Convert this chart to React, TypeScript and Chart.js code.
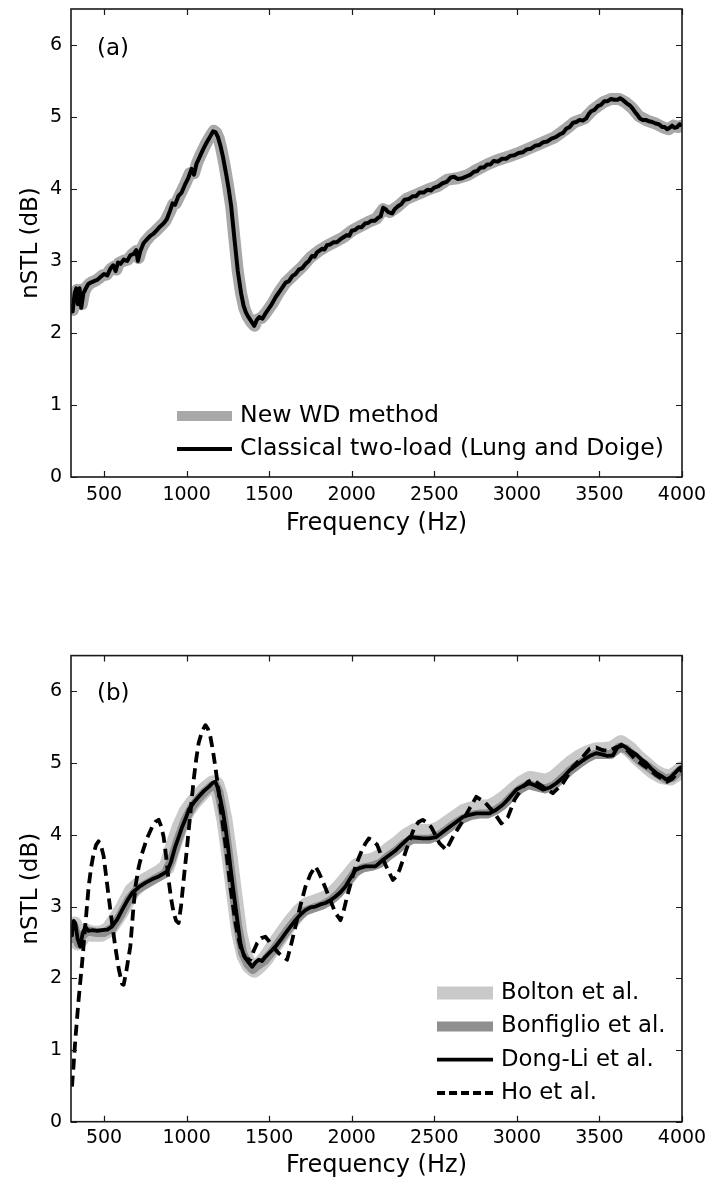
import { useEffect, useRef } from "react";
import { Chart, registerables } from "chart.js";

Chart.register(...registerables);

const FONT = "'DejaVu Sans', 'Liberation Sans', sans-serif";

// Shared axis ticks
const freqTicks = [500, 1000, 1500, 2000, 2500, 3000, 3500, 4000];
const nstlTicks = [0, 1, 2, 3, 4, 5, 6];

// ---- Panel (a): [frequency Hz, nSTL dB] ----
const newWdA: [number, number][] = [
  [300, 2.38], [312, 2.32], [324, 2.56], [336, 2.6], [346, 2.42], [356, 2.6], [366, 2.4], [380, 2.57],
  [395, 2.64], [410, 2.68], [430, 2.71], [450, 2.73], [470, 2.76], [490, 2.8], [515, 2.81], [540, 2.89],
  [560, 2.92], [575, 2.88], [590, 2.97], [615, 3.0], [645, 3.02], [670, 3.09], [695, 3.14], [710, 3.04],
  [725, 3.16], [750, 3.27], [780, 3.35], [810, 3.41], [840, 3.48], [870, 3.55], [900, 3.69], [920, 3.79],
  [935, 3.8], [960, 3.92], [990, 4.06], [1020, 4.22], [1045, 4.22], [1065, 4.37], [1090, 4.5],
  [1120, 4.64], [1145, 4.74], [1165, 4.81], [1180, 4.78], [1195, 4.7], [1210, 4.56], [1230, 4.33],
  [1250, 4.06], [1270, 3.76], [1290, 3.3], [1310, 2.86], [1330, 2.55], [1350, 2.34], [1370, 2.23],
  [1395, 2.14], [1412, 2.1], [1430, 2.19], [1455, 2.21], [1480, 2.28], [1520, 2.41], [1560, 2.57],
  [1600, 2.7], [1650, 2.81], [1700, 2.92], [1750, 3.05], [1800, 3.14], [1850, 3.21], [1900, 3.27],
  [1950, 3.33], [2000, 3.42], [2050, 3.48], [2100, 3.54], [2150, 3.59], [2190, 3.72], [2230, 3.68],
  [2280, 3.76], [2330, 3.86], [2400, 3.93], [2460, 3.99], [2520, 4.04], [2580, 4.13], [2640, 4.15],
  [2700, 4.19], [2760, 4.27], [2820, 4.34], [2880, 4.4], [2950, 4.45], [3020, 4.51], [3090, 4.58],
  [3160, 4.65], [3230, 4.72], [3290, 4.82], [3350, 4.93], [3410, 4.98], [3460, 5.1], [3520, 5.2],
  [3570, 5.25], [3620, 5.25], [3660, 5.2], [3700, 5.12], [3740, 5.01], [3790, 4.95], [3840, 4.91],
  [3890, 4.85], [3920, 4.83], [3950, 4.88], [3975, 4.86], [4000, 4.88],
];

const classicalA: [number, number][] = [
  [300, 2.4], [310, 2.3], [322, 2.55], [332, 2.62], [342, 2.4], [352, 2.62], [362, 2.35], [375, 2.55],
  [390, 2.62], [405, 2.68], [420, 2.7], [440, 2.72], [460, 2.74], [480, 2.78], [500, 2.82], [520, 2.8],
  [540, 2.9], [555, 2.94], [570, 2.86], [585, 2.98], [600, 2.96], [620, 3.02], [640, 3.0], [660, 3.08],
  [680, 3.1], [695, 3.15], [705, 3.0], [720, 3.14], [740, 3.25], [760, 3.3], [780, 3.35], [800, 3.38],
  [820, 3.43], [840, 3.48], [860, 3.52], [880, 3.58], [900, 3.7], [915, 3.8], [930, 3.78], [950, 3.9],
  [970, 3.95], [990, 4.06], [1010, 4.15], [1030, 4.28], [1045, 4.2], [1060, 4.35], [1080, 4.45],
  [1100, 4.55], [1120, 4.64], [1140, 4.72], [1160, 4.8], [1175, 4.79], [1190, 4.72], [1205, 4.6],
  [1220, 4.45], [1240, 4.2], [1255, 4.0], [1270, 3.76], [1290, 3.3], [1310, 2.86], [1330, 2.55],
  [1345, 2.38], [1360, 2.28], [1375, 2.22], [1395, 2.15], [1410, 2.1], [1425, 2.18], [1440, 2.22],
  [1460, 2.2], [1480, 2.28], [1510, 2.38], [1540, 2.5], [1570, 2.6], [1600, 2.7], [1620, 2.72],
  [1640, 2.79], [1660, 2.82], [1680, 2.88], [1700, 2.9], [1720, 2.96], [1740, 3.0], [1760, 3.07],
  [1775, 3.06], [1790, 3.12], [1820, 3.17], [1835, 3.16], [1850, 3.22], [1870, 3.23], [1890, 3.26],
  [1910, 3.26], [1930, 3.3], [1950, 3.33], [1970, 3.36], [1985, 3.35], [2000, 3.42], [2020, 3.43],
  [2040, 3.47], [2060, 3.47], [2080, 3.52], [2100, 3.53], [2120, 3.56], [2140, 3.56], [2160, 3.6],
  [2175, 3.62], [2190, 3.74], [2205, 3.72], [2220, 3.68], [2245, 3.66], [2260, 3.72], [2280, 3.76],
  [2300, 3.79], [2320, 3.85], [2345, 3.86], [2370, 3.9], [2390, 3.9], [2410, 3.95], [2435, 3.95],
  [2460, 3.99], [2480, 3.98], [2500, 4.02], [2525, 4.04], [2550, 4.08], [2575, 4.1], [2600, 4.16],
  [2620, 4.17], [2640, 4.14], [2670, 4.15], [2700, 4.18], [2720, 4.2], [2740, 4.24], [2760, 4.25],
  [2780, 4.3], [2800, 4.3], [2820, 4.34], [2840, 4.34], [2860, 4.39], [2885, 4.38], [2910, 4.42],
  [2935, 4.42], [2960, 4.46], [2985, 4.47], [3010, 4.5], [3035, 4.51], [3060, 4.55], [3085, 4.56],
  [3110, 4.6], [3135, 4.61], [3160, 4.65], [3185, 4.66], [3210, 4.7], [3235, 4.72], [3260, 4.76],
  [3280, 4.78], [3300, 4.84], [3320, 4.86], [3340, 4.92], [3360, 4.93], [3380, 4.96], [3400, 4.95],
  [3420, 4.98], [3435, 5.04], [3450, 5.08], [3470, 5.1], [3490, 5.15], [3510, 5.17], [3530, 5.22],
  [3550, 5.22], [3570, 5.25], [3590, 5.24], [3610, 5.24], [3625, 5.26], [3640, 5.24], [3655, 5.21],
  [3670, 5.18], [3685, 5.16], [3700, 5.12], [3715, 5.07], [3730, 5.03], [3745, 4.98], [3760, 4.96],
  [3780, 4.96], [3800, 4.94], [3820, 4.93], [3840, 4.91], [3860, 4.9], [3880, 4.86], [3895, 4.86],
  [3910, 4.83], [3925, 4.85], [3940, 4.88], [3955, 4.85], [3970, 4.86], [3985, 4.9], [4000, 4.88],
];

// ---- Panel (b): [frequency Hz, nSTL dB] ----
const boltonB: [number, number][] = [
  [300, 2.55], [320, 2.75], [340, 2.5], [360, 2.55], [390, 2.65], [430, 2.62], [480, 2.62], [530, 2.68],
  [580, 2.85], [620, 3.0], [670, 3.22], [720, 3.32], [780, 3.4], [840, 3.48], [880, 3.55], [920, 3.85],
  [960, 4.12], [1000, 4.32], [1040, 4.45], [1080, 4.55], [1120, 4.65], [1160, 4.72], [1180, 4.7],
  [1200, 4.55], [1230, 4.2], [1260, 3.7], [1290, 3.15], [1320, 2.62], [1350, 2.32], [1380, 2.18],
  [1410, 2.12], [1440, 2.18], [1480, 2.28], [1530, 2.45], [1580, 2.62], [1630, 2.78], [1680, 2.92],
  [1730, 3.02], [1780, 3.06], [1830, 3.1], [1880, 3.16], [1930, 3.28], [1980, 3.42], [2030, 3.56],
  [2080, 3.62], [2130, 3.64], [2180, 3.7], [2230, 3.8], [2280, 3.88], [2330, 3.98], [2380, 4.05],
  [2430, 4.04], [2480, 4.04], [2530, 4.08], [2580, 4.16], [2630, 4.24], [2680, 4.32], [2730, 4.36],
  [2780, 4.38], [2830, 4.38], [2880, 4.44], [2930, 4.52], [2980, 4.62], [3030, 4.72], [3080, 4.78],
  [3130, 4.76], [3180, 4.74], [3230, 4.8], [3280, 4.9], [3330, 5.0], [3380, 5.08], [3430, 5.14],
  [3480, 5.18], [3530, 5.18], [3580, 5.2], [3630, 5.28], [3680, 5.2], [3730, 5.08], [3780, 4.98],
  [3830, 4.88], [3880, 4.82], [3930, 4.8], [3970, 4.86], [4000, 4.92],
];

const bonfiglioB: [number, number][] = [
  [300, 2.55], [320, 2.72], [345, 2.48], [370, 2.6], [400, 2.66], [450, 2.64], [500, 2.64], [550, 2.7],
  [600, 2.88], [650, 3.1], [700, 3.24], [760, 3.32], [820, 3.4], [870, 3.46], [910, 3.66], [950, 3.95],
  [990, 4.2], [1030, 4.38], [1070, 4.5], [1110, 4.6], [1150, 4.68], [1175, 4.7], [1195, 4.6],
  [1220, 4.3], [1250, 3.8], [1280, 3.25], [1310, 2.72], [1340, 2.35], [1370, 2.2], [1400, 2.12],
  [1430, 2.18], [1470, 2.24], [1520, 2.38], [1570, 2.54], [1620, 2.7], [1670, 2.84], [1720, 2.94],
  [1770, 2.98], [1820, 3.02], [1870, 3.08], [1920, 3.18], [1970, 3.32], [2020, 3.48], [2070, 3.54],
  [2120, 3.56], [2170, 3.6], [2220, 3.7], [2270, 3.78], [2320, 3.88], [2370, 3.94], [2420, 3.94],
  [2470, 3.94], [2520, 3.98], [2570, 4.06], [2620, 4.15], [2670, 4.22], [2720, 4.27], [2770, 4.29],
  [2820, 4.29], [2870, 4.34], [2920, 4.42], [2970, 4.54], [3020, 4.64], [3070, 4.7], [3120, 4.67],
  [3170, 4.64], [3220, 4.68], [3270, 4.78], [3320, 4.89], [3370, 4.98], [3420, 5.06], [3470, 5.12],
  [3520, 5.12], [3570, 5.12], [3620, 5.22], [3660, 5.2], [3700, 5.12], [3750, 5.02], [3800, 4.94],
  [3850, 4.85], [3900, 4.78], [3940, 4.8], [3970, 4.86], [4000, 4.92],
];

const dongLiB: [number, number][] = [
  [300, 2.6], [306, 2.63], [316, 2.8], [326, 2.77], [340, 2.55], [356, 2.44], [370, 2.62], [387, 2.72],
  [405, 2.66], [427, 2.67], [460, 2.66], [488, 2.67], [520, 2.68], [548, 2.72], [580, 2.82], [609, 2.95],
  [640, 3.08], [670, 3.19], [710, 3.27], [750, 3.33], [790, 3.38], [831, 3.42], [860, 3.46], [882, 3.49],
  [905, 3.62], [932, 3.84], [952, 3.97], [973, 4.11], [993, 4.22], [1013, 4.35], [1043, 4.45],
  [1073, 4.53], [1104, 4.61], [1134, 4.67], [1160, 4.73], [1174, 4.74], [1190, 4.65], [1205, 4.49],
  [1220, 4.32], [1235, 4.11], [1250, 3.85], [1265, 3.56], [1280, 3.28], [1296, 3.0], [1311, 2.74],
  [1326, 2.49], [1341, 2.36], [1356, 2.28], [1376, 2.22], [1397, 2.16], [1417, 2.22], [1437, 2.26],
  [1457, 2.24], [1477, 2.3], [1508, 2.37], [1538, 2.44], [1568, 2.53], [1599, 2.63], [1629, 2.72],
  [1659, 2.81], [1690, 2.89], [1720, 2.95], [1750, 2.99], [1780, 3.0], [1810, 3.03], [1841, 3.05],
  [1872, 3.09], [1902, 3.14], [1932, 3.2], [1962, 3.28], [1993, 3.4], [2023, 3.51], [2053, 3.54],
  [2083, 3.56], [2114, 3.56], [2144, 3.56], [2188, 3.65], [2229, 3.72], [2269, 3.79], [2310, 3.88],
  [2350, 3.97], [2390, 3.96], [2430, 3.95], [2470, 3.95], [2512, 3.97], [2552, 4.04], [2592, 4.11],
  [2633, 4.18], [2673, 4.25], [2714, 4.28], [2754, 4.3], [2795, 4.3], [2835, 4.3], [2875, 4.35],
  [2915, 4.42], [2956, 4.52], [2997, 4.63], [3037, 4.68], [3077, 4.72], [3118, 4.68], [3158, 4.63],
  [3199, 4.66], [3239, 4.72], [3280, 4.8], [3320, 4.9], [3360, 4.97], [3400, 5.04], [3441, 5.1],
  [3480, 5.14], [3520, 5.12], [3550, 5.1], [3582, 5.11], [3610, 5.22], [3633, 5.26], [3660, 5.22],
  [3695, 5.16], [3724, 5.12], [3754, 5.05], [3784, 5.0], [3815, 4.92], [3845, 4.86], [3875, 4.82],
  [3905, 4.77], [3930, 4.8], [3956, 4.86], [3980, 4.92], [4000, 4.95],
];

const hoB: [number, number][] = [
  [306, 0.49], [316, 0.8], [326, 1.14], [346, 1.7], [367, 2.21], [387, 2.75], [407, 3.28], [422, 3.55],
  [437, 3.74], [452, 3.86], [467, 3.91], [483, 3.84], [498, 3.7], [513, 3.42], [528, 3.14], [548, 2.78],
  [568, 2.44], [590, 2.12], [610, 1.92], [619, 1.91], [635, 2.1], [659, 2.44], [675, 2.9], [690, 3.28],
  [710, 3.55], [730, 3.74], [760, 3.95], [791, 4.11], [811, 4.18], [831, 4.21], [846, 4.12], [861, 3.97],
  [876, 3.7], [891, 3.37], [907, 3.1], [922, 2.91], [937, 2.8], [952, 2.77], [967, 3.02], [982, 3.37],
  [998, 3.72], [1013, 4.07], [1028, 4.42], [1043, 4.77], [1058, 5.05], [1073, 5.28], [1094, 5.45],
  [1114, 5.53], [1129, 5.48], [1144, 5.37], [1159, 5.18], [1174, 4.95], [1190, 4.68], [1205, 4.39],
  [1220, 4.13], [1235, 3.88], [1250, 3.58], [1265, 3.28], [1281, 3.02], [1296, 2.77], [1316, 2.54],
  [1336, 2.35], [1361, 2.27], [1386, 2.26], [1406, 2.38], [1427, 2.49], [1452, 2.56], [1477, 2.58],
  [1498, 2.52], [1518, 2.44], [1538, 2.4], [1558, 2.35], [1584, 2.3], [1609, 2.26], [1634, 2.48],
  [1659, 2.72], [1690, 3.02], [1720, 3.28], [1750, 3.45], [1780, 3.56], [1800, 3.48], [1821, 3.37],
  [1841, 3.26], [1861, 3.14], [1882, 3.02], [1902, 2.91], [1932, 2.81], [1952, 2.95], [1972, 3.14],
  [1998, 3.36], [2023, 3.56], [2043, 3.68], [2063, 3.79], [2083, 3.88], [2103, 3.95], [2128, 3.92],
  [2154, 3.86], [2181, 3.7], [2209, 3.56], [2249, 3.37], [2270, 3.42], [2289, 3.51], [2310, 3.65],
  [2330, 3.79], [2355, 3.95], [2380, 4.11], [2405, 4.18], [2430, 4.21], [2455, 4.17], [2481, 4.11],
  [2506, 4.0], [2532, 3.88], [2572, 3.79], [2612, 3.97], [2663, 4.16], [2714, 4.37], [2754, 4.53],
  [2804, 4.46], [2835, 4.38], [2865, 4.3], [2906, 4.16], [2946, 4.25], [2986, 4.49], [3037, 4.67],
  [3067, 4.74], [3097, 4.77], [3128, 4.72], [3158, 4.67], [3218, 4.58], [3279, 4.72], [3339, 4.95],
  [3400, 5.09], [3441, 5.2], [3480, 5.22], [3520, 5.18], [3560, 5.17], [3600, 5.22], [3640, 5.24],
  [3680, 5.15], [3720, 5.05], [3760, 4.98], [3800, 4.92], [3840, 4.84], [3880, 4.78], [3910, 4.74],
  [3940, 4.78], [3970, 4.86], [4000, 4.92],
];

const toPoints = (rows: [number, number][]) => rows.map(([x, y]) => ({ x, y }));

// Box frame with inward ticks on all four sides, MATLAB style
const boxAxes = {
  id: "boxAxes",
  afterDatasetsDraw(chart: any) {
    const { ctx, chartArea, scales } = chart;
    const { left, right, top, bottom } = chartArea;
    const tl = 6;
    ctx.save();
    ctx.strokeStyle = "#1a1a1a";
    ctx.lineWidth = 1.2;
    ctx.beginPath();
    scales.x.ticks.forEach((t: any) => {
      const px = Math.round(scales.x.getPixelForValue(t.value)) + 0.5;
      ctx.moveTo(px, bottom);
      ctx.lineTo(px, bottom - tl);
      ctx.moveTo(px, top);
      ctx.lineTo(px, top + tl);
    });
    scales.y.ticks.forEach((t: any) => {
      const py = Math.round(scales.y.getPixelForValue(t.value)) + 0.5;
      ctx.moveTo(left, py);
      ctx.lineTo(left + tl, py);
      ctx.moveTo(right, py);
      ctx.lineTo(right - tl, py);
    });
    ctx.stroke();
    ctx.lineWidth = 1.6;
    ctx.strokeRect(left, top, right - left, bottom - top);
    ctx.restore();
  },
};

// Legend and panel tag drawn inside the plot area
const panelLegend = {
  id: "panelLegend",
  afterDraw(chart: any, _args: any, opts: any) {
    const { ctx, chartArea } = chart;
    const sets = chart.data.datasets;
    const n = sets.length;
    ctx.save();
    ctx.font = `${opts.fontSize}px ${FONT}`;
    ctx.textBaseline = "middle";
    ctx.textAlign = "left";
    sets.forEach((ds: any, i: number) => {
      const y = chartArea.bottom - opts.lastRowOffset - (n - 1 - i) * opts.rowHeight;
      const x0 = chartArea.left + opts.sampleLeft;
      ctx.beginPath();
      ctx.strokeStyle = ds.borderColor;
      ctx.lineWidth = ds.legendWidth ?? ds.borderWidth;
      ctx.setLineDash(ds.legendDash ?? []);
      ctx.lineCap = "butt";
      ctx.moveTo(x0, y);
      ctx.lineTo(x0 + opts.sampleLength, y);
      ctx.stroke();
      ctx.setLineDash([]);
      ctx.fillStyle = "#000";
      ctx.fillText(ds.label, x0 + opts.sampleLength + opts.textGap, y);
    });
    ctx.font = `${opts.tagSize}px ${FONT}`;
    ctx.fillText(opts.tag, chartArea.left + opts.tagX, chartArea.top + opts.tagY);
    ctx.restore();
  },
};

type PanelSpec = {
  offsetTop: number;
  height: number;
  areaTop: number;
  areaBottom: number;
  tickPad: number;
  titlePad: number;
  datasets: any[];
  legend: any;
};

const AREA_LEFT = 71;
const AREA_RIGHT = 682;
const WIDTH = 711;

function buildConfig(spec: PanelSpec): any {
  return {
    type: "line",
    data: { datasets: spec.datasets },
    options: {
      animation: false,
      responsive: false,
      layout: { padding: { top: spec.areaTop, right: WIDTH - AREA_RIGHT, left: 0, bottom: 0 } },
      elements: { point: { radius: 0 }, line: { tension: 0 } },
      plugins: {
        legend: { display: false },
        tooltip: { enabled: false },
        panelLegend: spec.legend,
      },
      scales: {
        x: {
          type: "linear",
          min: 300,
          max: 4000,
          afterBuildTicks: (s: any) => {
            s.ticks = freqTicks.map((v) => ({ value: v }));
          },
          afterFit: (s: any) => {
            s.height = spec.height - spec.areaBottom;
            s.paddingLeft = 0;
            s.paddingRight = 0;
          },
          grid: { display: false, drawTicks: false },
          border: { display: false },
          ticks: {
            color: "#000",
            font: { family: FONT, size: 19 },
            padding: spec.tickPad,
            maxRotation: 0,
            autoSkip: false,
            callback: (v: any) => String(v),
          },
          title: {
            display: true,
            text: "Frequency (Hz)",
            color: "#000",
            font: { family: FONT, size: 24 },
            padding: { top: 0, bottom: spec.titlePad },
          },
        },
        y: {
          type: "linear",
          min: 0,
          max: 6.5,
          afterBuildTicks: (s: any) => {
            s.ticks = nstlTicks.map((v) => ({ value: v }));
          },
          afterFit: (s: any) => {
            s.width = AREA_LEFT;
            s.paddingTop = 0;
            s.paddingBottom = 0;
          },
          grid: { display: false, drawTicks: false },
          border: { display: false },
          ticks: {
            color: "#000",
            font: { family: FONT, size: 19 },
            padding: 9,
            callback: (v: any) => String(v),
          },
          title: {
            display: true,
            text: "nSTL (dB)",
            color: "#000",
            font: { family: FONT, size: 23 },
            padding: { top: 17, bottom: 0 },
          },
        },
      },
    },
    plugins: [boxAxes, panelLegend],
  };
}

const panelA: PanelSpec = {
  offsetTop: 0,
  height: 560,
  areaTop: 9,
  areaBottom: 477,
  tickPad: 7,
  titlePad: 22,
  datasets: [
    {
      label: "New WD method",
      data: toPoints(newWdA),
      borderColor: "#a8a8a8",
      borderWidth: 12,
      legendWidth: 10,
      borderJoinStyle: "round",
      borderCapStyle: "round",
      clip: 0,
      order: 2,
    },
    {
      label: "Classical two-load (Lung and Doige)",
      data: toPoints(classicalA),
      borderColor: "#000",
      borderWidth: 4,
      borderJoinStyle: "round",
      clip: 0,
      order: 1,
    },
  ],
  legend: {
    sampleLeft: 106,
    sampleLength: 55,
    textGap: 8,
    rowHeight: 33,
    lastRowOffset: 28,
    fontSize: 23.6,
    tag: "(a)",
    tagX: 26,
    tagY: 40,
    tagSize: 23,
  },
};

const panelB: PanelSpec = {
  offsetTop: 560,
  height: 624,
  areaTop: 95.6,
  areaBottom: 561.7,
  tickPad: 5,
  titlePad: 4,
  datasets: [
    {
      label: "Bolton et al.",
      data: toPoints(boltonB),
      borderColor: "#c9c9c9",
      borderWidth: 16,
      legendWidth: 13,
      borderJoinStyle: "round",
      borderCapStyle: "round",
      clip: 0,
      order: 4,
    },
    {
      label: "Bonfiglio et al.",
      data: toPoints(bonfiglioB),
      borderColor: "#8f8f8f",
      borderWidth: 9,
      legendWidth: 10,
      borderJoinStyle: "round",
      borderCapStyle: "round",
      clip: 0,
      order: 3,
    },
    {
      label: "Dong-Li et al.",
      data: toPoints(dongLiB),
      borderColor: "#000",
      borderWidth: 3.8,
      borderJoinStyle: "round",
      clip: 0,
      order: 2,
    },
    {
      label: "Ho et al.",
      data: toPoints(hoB),
      borderColor: "#000",
      borderWidth: 3.8,
      borderDash: [11, 6],
      legendDash: [8, 4],
      borderJoinStyle: "round",
      clip: 0,
      order: 1,
    },
  ],
  legend: {
    sampleLeft: 366,
    sampleLength: 56,
    textGap: 8,
    rowHeight: 33.3,
    lastRowOffset: 28.7,
    fontSize: 22.8,
    tag: "(b)",
    tagX: 26,
    tagY: 38,
    tagSize: 23,
  },
};

function Panel({ spec }: { spec: PanelSpec }) {
  const ref = useRef<HTMLCanvasElement>(null);
  useEffect(() => {
    if (!ref.current) return;
    const chart = new Chart(ref.current, buildConfig(spec));
    return () => chart.destroy();
  }, [spec]);
  return (
    <canvas
      ref={ref}
      width={WIDTH}
      height={spec.height}
      style={{ position: "absolute", left: 0, top: spec.offsetTop, width: WIDTH, height: spec.height, display: "block" }}
    />
  );
}

export default function App() {
  return (
    <div style={{ position: "absolute", left: 0, top: 0, width: WIDTH, height: 1184, background: "#fff" }}>
      <Panel spec={panelA} />
      <Panel spec={panelB} />
    </div>
  );
}
